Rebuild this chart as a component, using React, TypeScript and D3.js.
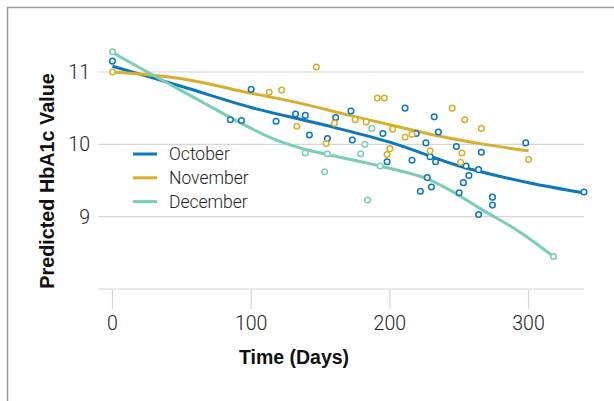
import React from 'react';
import * as d3 from 'd3';

// scatter points: [day, value]
const octoberPoints = [
  [0, 11.15], [85, 10.34], [93, 10.33], [100, 10.76], [118, 10.32], [132, 10.42],
  [139, 10.4], [142, 10.13], [155, 10.08], [161, 10.37], [172, 10.46], [173, 10.06],
  [195, 10.15], [198, 9.76], [211, 10.5], [216, 9.78], [219, 10.15], [226, 10.02],
  [227, 9.54], [229, 9.83], [232, 10.38], [233, 9.76], [235, 10.17], [222, 9.35],
  [230, 9.41], [248, 9.97], [250, 9.33], [253, 9.47], [255, 9.7], [257, 9.57],
  [264, 9.65], [264, 9.03], [266, 9.89], [274, 9.27], [274, 9.16], [298, 10.02],
  [340, 9.34],
];
const novemberPoints = [
  [0, 11.0], [113, 10.72], [122, 10.75], [133, 10.25], [147, 11.07], [154, 10.01],
  [160, 10.29], [175, 10.34], [183, 10.31], [191, 10.64], [196, 10.64], [198, 9.86],
  [200, 9.94], [202, 10.21], [211, 10.1], [216, 10.14], [229, 9.91], [245, 10.5],
  [252, 9.88], [251, 9.75], [254, 10.34], [266, 10.22], [300, 9.79],
];
const decemberPoints = [
  [0, 11.28], [139, 9.88], [153, 9.62], [155, 9.87], [179, 9.87], [182, 10.0],
  [187, 10.22], [184, 9.23], [193, 9.7], [318, 8.45],
];

// fitted curves: [day, value]
const octoberFit = [
  [0, 11.08], [50, 10.8], [100, 10.51], [150, 10.28], [200, 10.03], [250, 9.7],
  [300, 9.47], [340, 9.33],
];
const novemberFit = [
  [0, 11.0], [49, 10.91], [99, 10.71], [135, 10.57], [171, 10.4], [207, 10.24],
  [229, 10.14], [265, 10.01], [300, 9.91],
];
const decemberFit = [
  [0, 11.27], [49, 10.75], [113, 10.1], [139, 9.93], [155, 9.86], [193, 9.7],
  [226, 9.53], [243, 9.37], [267, 9.09], [292, 8.81], [318, 8.45],
];

const seriesNames = ['October', 'November', 'December'];
const seriesColors = ['#0b77bd', '#d9ae2b', '#78cfb1'];
const xTicks = [0, 100, 200, 300];
const yTicks = [9, 10, 11];

const series = [
  { name: seriesNames[0], color: seriesColors[0], points: octoberPoints, fit: octoberFit },
  { name: seriesNames[1], color: seriesColors[1], points: novemberPoints, fit: novemberFit },
  { name: seriesNames[2], color: seriesColors[2], points: decemberPoints, fit: decemberFit },
];

export default function App() {
  const x = d3.scaleLinear().domain([-10, 340]).range([98.6, 584]);
  const y = d3.scaleLinear().domain([8, 11]).range([289, 72]);
  const line = d3
    .line<number[]>()
    .x(d => x(d[0]))
    .y(d => y(d[1]))
    .curve(d3.curveCatmullRom.alpha(0.5));
  const light = 'Roboto, "Liberation Sans", sans-serif';
  const bold = '"Liberation Sans", Arial, sans-serif';

  return (
    <svg
      width={614}
      height={401}
      style={{ position: 'absolute', left: 0, top: 0, background: '#fff' }}
      fontFamily={light}
    >
      <rect x={7.5} y={7.5} width={700} height={500} fill="none" stroke="#9a9a9a" strokeWidth={1.5} />

      {/* gridlines */}
      {yTicks.map(t => (
        <g key={t}>
          <line x1={x(-10)} x2={x(340)} y1={y(t)} y2={y(t)} stroke="#d6d6d6" strokeWidth={1.2} />
          <text x={90} y={y(t)} dy="0.36em" textAnchor="end" fontSize={19.5} fontWeight={300} fill="#222">
            {t}
          </text>
        </g>
      ))}

      {/* x axis */}
      <line x1={x(-10)} x2={x(340)} y1={y(8)} y2={y(8)} stroke="#d6d6d6" strokeWidth={1.2} />
      {xTicks.map(t => (
        <g key={t}>
          <line x1={x(t)} x2={x(t)} y1={y(8)} y2={y(8) + 20} stroke="#d6d6d6" strokeWidth={1.2} />
          <text x={x(t)} y={330} textAnchor="middle" fontSize={19.5} fontWeight={300} fill="#222">
            {t}
          </text>
        </g>
      ))}
      <text x={294} y={364} textAnchor="middle" fontSize={19.5} fontWeight={700} fill="#111" fontFamily={bold}>
        Time (Days)
      </text>
      <text
        transform="translate(54,181) rotate(-90)"
        textAnchor="middle"
        fontSize={19.8}
        fontWeight={700}
        fill="#111"
        fontFamily={bold}
      >
        Predicted HbA1c Value
      </text>

      {/* fitted curves */}
      {series.map(s => (
        <path key={s.name} d={line(s.fit) || ''} fill="none" stroke={s.color} strokeWidth={3} />
      ))}

      {/* points */}
      {series.map(s => (
        <g key={s.name}>
          {s.points.map((p, i) => (
            <circle key={i} cx={x(p[0])} cy={y(p[1])} r={2.8} fill="#fff" stroke={s.color} strokeWidth={1.5} />
          ))}
        </g>
      ))}

      {/* legend */}
      {series.map((s, i) => (
        <g key={s.name} transform={`translate(133,${154 + i * 23.8})`}>
          <line x1={0} x2={24} y1={0} y2={0} stroke={s.color} strokeWidth={3} />
          <text x={36} y={0} dy="0.36em" fontSize={17.5} fontWeight={300} fill="#222">
            {s.name}
          </text>
        </g>
      ))}
    </svg>
  );
}
